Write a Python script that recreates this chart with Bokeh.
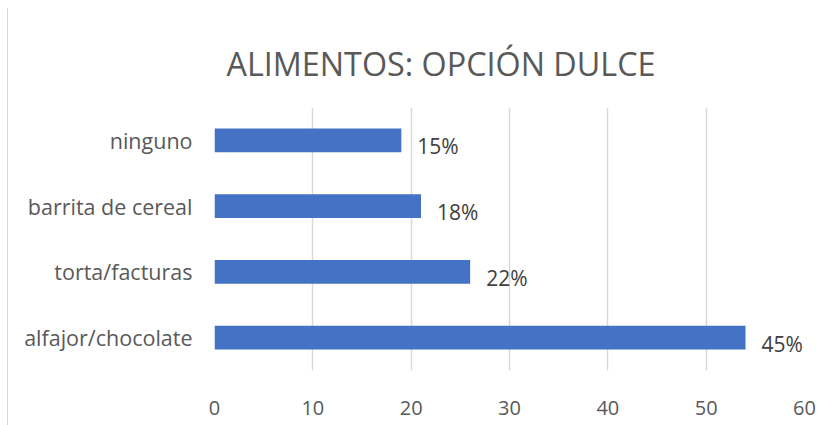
from bokeh.plotting import figure
from bokeh.models import ColumnDataSource, FactorRange, Range1d, FixedTicker
from bokeh.core.properties import value
from bokeh.embed import file_html
from bokeh.resources import INLINE

categories = ["alfajor/chocolate", "torta/facturas", "barrita de cereal", "ninguno"]
values = [54, 26, 21, 19]
labels = ["45%", "22%", "18%", "15%"]
x_ticks = [0, 10, 20, 30, 40, 50, 60]

FONT = "Open Sans"
GREY = "#595959"

src = ColumnDataSource(dict(cat=categories, val=values, lab=labels))

p = figure(
    width=825, height=417,
    y_range=FactorRange(factors=categories, range_padding=0),
    x_range=Range1d(0, 60),
    output_backend="svg", toolbar_location=None,
    min_border_left=206, min_border_right=29,
    min_border_top=99, min_border_bottom=55,
    title="ALIMENTOS: OPCIÓN DULCE",
)
p.styles = {"margin-left": "7px", "margin-top": "8px", "border-left": "1px solid #d9d9d9"}

p.title.text_font = FONT
p.title.text_font_size = "32.3px"
p.title.text_font_style = "normal"
p.title.text_color = GREY
p.title.align = "left"
p.title.offset = 12
p.title.standoff = 45

p.hbar(y="cat", right="val", left=0, height=0.36, source=src,
       fill_color="#4472C4", line_color=None)

p.text(x="val", y="cat", text="lab", source=src, x_offset=16, y_offset=6,
       text_font=value(FONT), text_font_size="21px", text_color="#404040",
       text_baseline="middle", text_align="left")

p.xaxis.ticker = FixedTicker(ticks=x_ticks)
for ax in (p.xaxis, p.yaxis):
    ax.axis_line_color = None
    ax.major_tick_line_color = None
    ax.minor_tick_line_color = None
    ax.major_label_text_font = FONT
    ax.major_label_text_color = GREY
p.xaxis.major_label_text_font_size = "20px"
p.yaxis.major_label_text_font_size = "21.5px"
p.xaxis.major_label_standoff = 24
p.yaxis.major_label_standoff = 16

p.xgrid.grid_line_color = "#d9d9d9"
p.xgrid.grid_line_width = 1.5
p.ygrid.grid_line_color = None
p.outline_line_color = None

open("out.html", "w").write(file_html(p, INLINE))
